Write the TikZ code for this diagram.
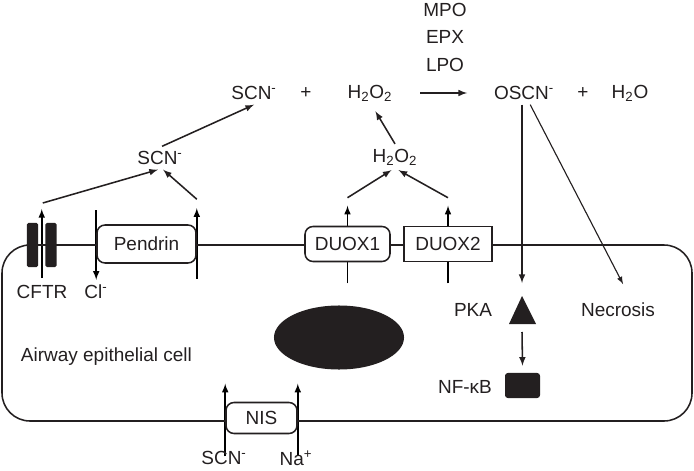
\documentclass[tikz,border=0pt]{standalone}
\usepackage{fontspec}
\setmainfont{Liberation Sans}
\usetikzlibrary{calc}
\usetikzlibrary{arrows}
\usetikzlibrary{positioning}
\usetikzlibrary{backgrounds}
\definecolor{ink}{HTML}{231F20}

\begin{document}
\begin{tikzpicture}[x=0.025cm, y=-0.025cm, >=latex, ink,
  every node/.style={font=\fontsize{13.5}{16}\selectfont, text=ink},
  wire/.style={line width=1.1pt},
  thinwire/.style={line width=0.8pt},
  chanbox/.style={draw, line width=1.1pt, fill=white, rounded corners=0.2cm, inner sep=0pt},
  cftrbar/.style={fill=ink, rounded corners=1pt, minimum width=0.275cm, minimum height=1.1cm, inner sep=0pt},
]
\useasboundingbox (0,0) rectangle (694,471);

% Cell outline (top side = apical membrane)
\draw[wire, rounded corners=0.7cm] (2,245) rectangle (692,421);
\fill (339,337.5) ellipse [x radius=1.625cm, y radius=0.8cm];
\node[anchor=west] (cell) at (16,357) {Airway epithelial cell};

% ---------------------------------------------------
% Membrane proteins
\node[cftrbar] (cftra) at (32.5,245) {};
\node[cftrbar] (cftrb) at (51,245) {};
\coordinate[] (cftrmid) at ($ (cftra)!0.5!(cftrb) $);
\node[chanbox, minimum width=2.475cm, minimum height=0.95cm] (pendrin) at (146.5,244) {Pendrin};
\node[chanbox, minimum width=2.125cm, minimum height=0.875cm] (duoxa) at (347.5,244) {DUOX1};
\node[chanbox, rounded corners=0pt, minimum width=2.2cm, minimum height=0.875cm] (duoxb) at (448,244) {DUOX2};
\node[chanbox, minimum width=1.775cm, minimum height=0.775cm] (nis) at (261.5,418) {NIS};

\node[] (cftr) at (42,292) {CFTR};
\node[] (cl) at (96,292) {Cl\textsuperscript{-}};
\node[] (scnin) at (224,458) {SCN\textsuperscript{-}};
\node[] (na) at (296,458) {Na\textsuperscript{+}};

% Transport arrows across the membrane
\begin{scope}[on background layer]
\draw[wire, ->] ($ (cftrmid) + (0, 33) $) -- ($ (cftrmid) + (0, -36) $);
\draw[wire, ->] ($ (pendrin.north west) + (0, -14) $) -- ($ (pendrin.south west) + (0, 16) $);
\draw[wire, ->] ($ (pendrin.south east) + (0, 15) $) -- ($ (pendrin.north east) + (0, -16) $);
\draw[wire, ->] ($ (duoxa.south) + (0, 21) $) -- ($ (duoxa.north) + (0, -20) $);
\draw[wire, ->] ($ (duoxb.south) + (0, 21) $) -- ($ (duoxb.north) + (0, -20) $);
\draw[wire, ->] ($ (nis.south west) + (0, 22) $) -- ($ (nis.north west) + (0, -18) $);
\draw[wire, ->] ($ (nis.south east) + (0, 22) $) -- ($ (nis.north east) + (0, -18) $);
\end{scope}

% ---------------------------------------------------
% Reaction
\node[] (scntop) at (254,93) {SCN\textsuperscript{-}};
\node[] (plusa) at (306,93) {+};
\node[] (hhtop) at (370,93) {H\textsubscript{2}O\textsubscript{2}};
\node[] (mpo) at (445,10) {MPO};
\node[] (epx) at (445,37) {EPX};
\node[] (lpo) at (445,65) {LPO};
\node[] (oscn) at (524,93) {OSCN\textsuperscript{-}};
\node[] (plusb) at (583,93) {+};
\node[] (water) at (630,93) {H\textsubscript{2}O};
\node[] (scnmid) at (160,158) {SCN\textsuperscript{-}};
\node[] (hhlow) at (395,157) {H\textsubscript{2}O\textsubscript{2}};

\draw[wire, ->] ($ (hhtop.east) + (23, 0) $) -- ($ (oscn.west) + (-22, 0) $);
\draw[wire, ->] ($ (cftrmid) + (1, -42) $) -- (scnmid.-100);
\draw[wire, ->] ($ (pendrin.north east) + (0, -25) $) -- (scnmid.-75);
\draw[wire, ->] (scnmid.80) -- (scntop.south);
\draw[wire, ->] ($ (duoxa.north) + (0, -28) $) -- (hhlow.-105);
\draw[wire, ->] ($ (duoxb.north) + (0, -28) $) -- (hhlow.-75);
\draw[wire, ->, shorten >=0.15cm] (hhlow.north) -- (hhtop.-80);

% ---------------------------------------------------
% Signalling inside the cell
\coordinate[] (pkatop) at (522,296);
\coordinate[] (pkabot) at (522,324);
\fill (pkatop) -- ++(14,28) -- ++(-27,0) -- cycle;
\node[] (pka) at (473,310) {PKA};
\node[fill=ink, rounded corners=2pt, minimum width=0.875cm, minimum height=0.625cm, inner sep=0pt] (nfkbbox) at (522.5,385.5) {};
\node[] (nfkb) at (465,387) {NF-κB};
\node[] (necrosis) at (618,310) {Necrosis};

\draw[wire, ->] (oscn.south -| pkatop) -- ($ (pkatop) + (0, -13) $);
\draw[thinwire, ->] (oscn.-62) -- ($ (necrosis.north) + (5, -14) $);
\draw[wire, ->] ($ (pkabot) + (0, 8) $) -- ($ (nfkbbox.north) + (0, -7) $);
\end{tikzpicture}
\end{document}
